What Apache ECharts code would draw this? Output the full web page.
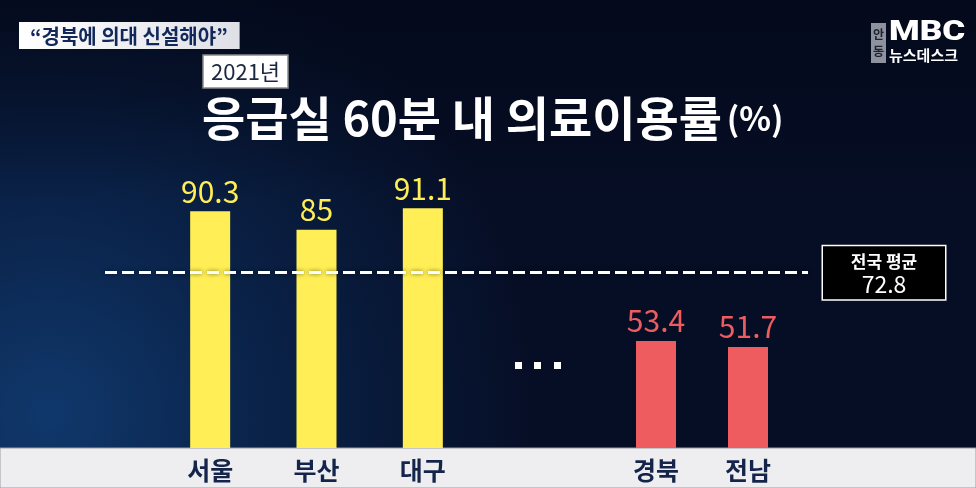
<!DOCTYPE html>
<html><head><meta charset="utf-8">
<script src="https://cdn.jsdelivr.net/npm/echarts@6/dist/echarts.min.js"></script>
<style>html,body{margin:0;padding:0;background:#07122a}#c{width:976px;height:488px}</style>
</head><body><div id="c"></div>
<script>
const headline = '“경북에 의대 신설해야”';
const yearLabel = '2021년';
const titleText = '응급실 60분 내 의료이용률';
const unitText = '(%)';
const groupACategories = ['서울', '부산', '대구'];
const groupAValues = [90.3, 85, 91.1];
const groupBCategories = ['경북', '전남'];
const groupBValues = [53.4, 51.7];
const nationalAvgLabel = '전국 평균';
const nationalAvg = 72.8;

const FONT = '"Noto Sans CJK KR", "Noto Sans", sans-serif';
const yMin = 23, yMax = 100;
const gridTop = 177, gridBottom = 40;
const YELLOW = '#FFEE55', RED = '#EE5C60';

const chart = echarts.init(document.getElementById('c'));

const yAxisOf = (i) => ({ type: 'value', gridIndex: i, min: yMin, max: yMax, show: false });
const xAxisOf = (data, i, show) => ({
  type: 'category', gridIndex: i, data: data, show: show,
  axisLine: { show: false }, axisTick: { show: false }, splitLine: { show: false },
  axisLabel: { color: '#14244a', fontFamily: FONT, fontWeight: 'bold', fontSize: 25, margin: 10 }
});
const valueLabel = (color) => ({
  show: true, position: 'top', distance: 4, color: color,
  fontFamily: FONT, fontSize: 30, lineHeight: 32
});

chart.setOption({
  backgroundColor: {
    type: 'radial', x: 0.05, y: 0.85, r: 1.0,
    colorStops: [
      { offset: 0, color: '#10386c' },
      { offset: 0.45, color: '#0a2248' },
      { offset: 1, color: '#060e25' }
    ]
  },
  animation: false,
  title: [
    {
      text: headline, left: 19, top: 22,
      backgroundColor: { type: 'linear', x: 0, y: 0, x2: 1, y2: 0, colorStops: [{ offset: 0, color: '#ffffff' }, { offset: 1, color: '#dfe0e6' }] },
      padding: [4, 12, 3, 11],
      textStyle: { color: '#12275a', fontSize: 20, fontWeight: 'bold', fontFamily: FONT, lineHeight: 20 }
    },
    {
      text: yearLabel, left: 203, top: 55,
      backgroundColor: '#ffffff', borderColor: '#8a8a8a', borderWidth: 1.5,
      padding: [4, 8, 3, 8],
      textStyle: { color: '#1b2640', fontSize: 22, fontWeight: 'normal', fontFamily: FONT, lineHeight: 26 }
    },
    {
      text: '{a|' + titleText + '} {b|' + unitText + '}', left: 197, top: 84,
      textStyle: {
        rich: {
          a: { fontSize: 47, fontWeight: 'bold', color: '#ffffff', fontFamily: FONT, lineHeight: 58 },
          b: { fontSize: 33, color: '#ffffff', fontFamily: FONT, lineHeight: 58 }
        }
      }
    }
  ],
  grid: [
    { left: 157, right: 500, top: gridTop, bottom: gridBottom },
    { left: 610, right: 182, top: gridTop, bottom: gridBottom },
    { left: 105, right: 168, top: gridTop, bottom: gridBottom }
  ],
  xAxis: [
    xAxisOf(groupACategories, 0, true),
    xAxisOf(groupBCategories, 1, true),
    xAxisOf([''], 2, false)
  ],
  yAxis: [yAxisOf(0), yAxisOf(1), yAxisOf(2)],
  graphic: [
    {
      type: 'rect', z: -5, shape: { x: 0, y: 0, width: 976, height: 200 },
      style: { fill: { type: 'linear', x: 0, y: 0, x2: 0, y2: 1, colorStops: [{ offset: 0, color: 'rgba(3,8,24,0.75)' }, { offset: 1, color: 'rgba(3,8,24,0)' }] } }
    },
    {
      type: 'rect', z: -1, shape: { x: 0, y: 448, width: 976, height: 40 },
      style: { fill: '#eeeef1', stroke: '#9a9ca4', lineWidth: 1 }
    },
    { type: 'rect', shape: { x: 515, y: 362, width: 7, height: 7 }, style: { fill: '#ffffff' } },
    { type: 'rect', shape: { x: 534, y: 362, width: 7, height: 7 }, style: { fill: '#ffffff' } },
    { type: 'rect', shape: { x: 554, y: 362, width: 7, height: 7 }, style: { fill: '#ffffff' } },
    { type: 'rect', shape: { x: 871, y: 23, width: 15, height: 40 }, style: { fill: '#8d929c' } },
    { type: 'text', x: 878.5, y: 43, style: { text: '안\n동', fill: '#1a2233', font: 'bold 12px ' + FONT, textAlign: 'center', textVerticalAlign: 'middle', lineHeight: 17 } },
    { type: 'text', x: 889, y: 19, scaleX: 1.25, style: { text: 'MBC', fill: '#ffffff', font: '900 28px Roboto, sans-serif', textAlign: 'left' } },
    { type: 'text', x: 889, y: 48, style: { text: '뉴스데스크', fill: '#ffffff', font: 'bold 15px ' + FONT, textAlign: 'left' } }
  ],
  series: [
    {
      type: 'bar', xAxisIndex: 0, yAxisIndex: 0, data: groupAValues, barWidth: 40,
      itemStyle: { color: YELLOW }, label: valueLabel(YELLOW)
    },
    {
      type: 'bar', xAxisIndex: 1, yAxisIndex: 1, data: groupBValues, barWidth: 40,
      itemStyle: { color: RED }, label: valueLabel(RED)
    },
    {
      type: 'line', xAxisIndex: 2, yAxisIndex: 2, data: [], z: 10,
      markLine: {
        silent: true, symbol: ['none', 'none'], z: 10,
        lineStyle: { color: '#ffffff', width: 3, type: [12, 5], shadowColor: 'rgba(0,0,0,0.5)', shadowBlur: 4 },
        label: {
          show: true, position: 'end', distance: 15,
          formatter: () => '{t|' + nationalAvgLabel + '}\n{v|' + nationalAvg + '}',
          backgroundColor: '#000000', borderColor: '#ffffff', borderWidth: 1.5,
          padding: [4, 20, 3, 20],
          rich: {
            t: { fontSize: 17, fontWeight: 'bold', color: '#ffffff', fontFamily: FONT, lineHeight: 22, align: 'center', width: 82 },
            v: { fontSize: 23, color: '#ffffff', fontFamily: FONT, lineHeight: 24, align: 'center', width: 82 }
          }
        },
        data: [{ yAxis: nationalAvg }]
      }
    }
  ]
});
</script>
</body></html>
